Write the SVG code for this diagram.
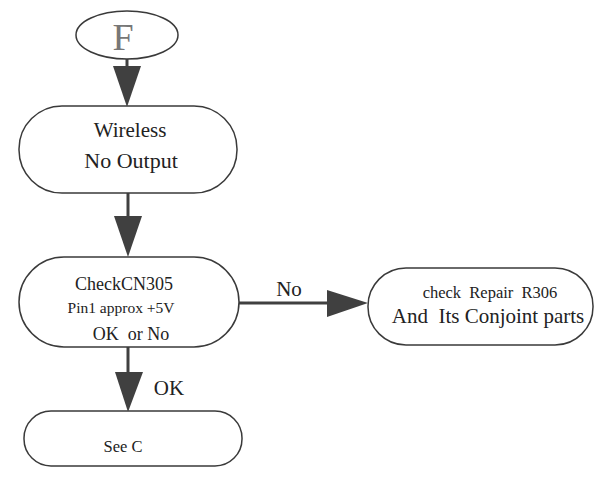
<svg xmlns="http://www.w3.org/2000/svg" width="595" height="477" viewBox="0 0 595 477">
<style>
.box{fill:#fff;stroke:#3a3a3a;stroke-width:1.5}
.line{stroke:#404040;stroke-width:3;fill:none}
.head{fill:#404040;stroke:none}
text{font-family:"Liberation Serif","Times New Roman",serif;fill:#222;text-anchor:middle}
</style>
<rect width="595" height="477" fill="#fff"/>
<g id="connectors">
<line class="line" x1="127" y1="59" x2="127" y2="70"/>
<polygon class="head" points="113,66 141,66 127,107"/>
<line class="line" x1="128" y1="193" x2="128" y2="220"/>
<polygon class="head" points="114,216 142,216 128,257"/>
<line class="line" x1="239" y1="303" x2="330" y2="303"/>
<polygon class="head" points="327,290 327,317 368,303"/>
<text x="289" y="296" font-size="21">No</text>
<line class="line" x1="128" y1="347" x2="128" y2="375"/>
<polygon class="head" points="115,372 143,372 128,412"/>
<text x="169" y="395" font-size="21">OK</text>
</g>
<g id="start">
<ellipse class="box" cx="127" cy="35" rx="51" ry="24"/>
<text x="123" y="50" font-size="38" style="fill:#777">F</text>
</g>
<g id="wireless">
<rect class="box" x="19" y="106" width="218" height="87" rx="43"/>
<text x="130" y="137" font-size="21">Wireless</text>
<text x="131" y="168" font-size="22">No Output</text>
</g>
<g id="check">
<rect class="box" x="19" y="257" width="220" height="90" rx="45"/>
<text x="124" y="290" font-size="18">CheckCN305</text>
<text x="121" y="313" font-size="15.5">Pin1 approx +5V</text>
<text x="131" y="340" font-size="18" xml:space="preserve">OK  or No</text>
</g>
<g id="repair">
<rect class="box" x="368" y="268" width="225" height="77" rx="38"/>
<text x="490" y="298" font-size="16.5" xml:space="preserve">check  Repair  R306</text>
<text x="488" y="323" font-size="21" xml:space="preserve">And  Its Conjoint parts</text>
</g>
<g id="seec">
<rect class="box" x="24" y="411" width="218" height="55" rx="27"/>
<text x="123" y="452" font-size="16.5">See C</text>
</g>
</svg>
